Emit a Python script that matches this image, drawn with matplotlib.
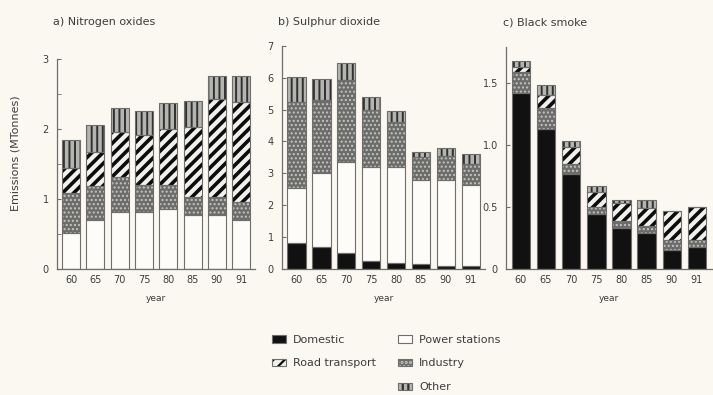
import numpy as np
import matplotlib
matplotlib.use('Agg')
import matplotlib.pyplot as plt
from matplotlib.patches import Patch

plt.rcParams['font.family'] = ['DejaVu Sans']
plt.rcParams['hatch.linewidth'] = 1.6

#%% data (MTonnes)
years = ['60', '65', '70', '75', '80', '85', '90', '91']

# a) Nitrogen oxides
nox_domestic = [0, 0, 0, 0, 0, 0, 0, 0]
nox_power = [0.51, 0.70, 0.82, 0.81, 0.86, 0.77, 0.77, 0.70]
nox_industry = [0.57, 0.49, 0.50, 0.39, 0.34, 0.26, 0.26, 0.26]
nox_road = [0.36, 0.48, 0.63, 0.71, 0.80, 1.00, 1.40, 1.43]
nox_other = [0.40, 0.39, 0.35, 0.35, 0.37, 0.37, 0.32, 0.36]

# b) Sulphur dioxide
so2_domestic = [0.82, 0.69, 0.50, 0.26, 0.18, 0.17, 0.10, 0.10]
so2_power = [1.72, 2.31, 2.87, 2.95, 3.03, 2.62, 2.69, 2.53]
so2_industry = [2.70, 2.30, 2.56, 1.79, 1.39, 0.73, 0.76, 0.67]
so2_road = [0, 0, 0, 0, 0, 0, 0, 0]
so2_other = [0.78, 0.66, 0.52, 0.39, 0.34, 0.16, 0.24, 0.30]

# c) Black smoke
bs_domestic = [1.42, 1.13, 0.77, 0.44, 0.33, 0.29, 0.15, 0.18]
bs_power = [0, 0, 0, 0, 0, 0, 0, 0]
bs_industry = [0.17, 0.17, 0.08, 0.06, 0.06, 0.06, 0.08, 0.05]
bs_road = [0.04, 0.10, 0.13, 0.12, 0.14, 0.14, 0.24, 0.27]
bs_other = [0.05, 0.08, 0.05, 0.05, 0.03, 0.07, 0.0, 0.0]

sources = ['Domestic', 'Power stations', 'Industry', 'Road transport', 'Other']

#%% styles: (facecolor, hatch colour, hatch, hatch linewidth)
bg = '#faf8f0'
ink = '#3c3c3c'
edge = '#6e6e6e'
styles = {
    'Domestic': ('#111111', '#111111', None, 1.0),
    'Power stations': ('#fdfcf8', '#fdfcf8', None, 1.0),
    'Industry': ('#6c6c6a', '#c4c4c0', '....', 1.0),
    'Road transport': ('#f0f0ec', '#0c0c0c', '///', 2.6),
    'Other': ('#b4b4b0', '#303030', '|||', 1.4),
}


def hatched(p, lw):
    # per-patch hatch width when the matplotlib version supports it
    if hasattr(p, 'set_hatch_linewidth'):
        p.set_hatch_linewidth(lw)
    return p


def stacked(ax, parts, ymax, yticks, yticklabels, minor=None):
    x = np.arange(len(years))
    bottom = np.zeros(len(years))
    for name, vals in zip(sources, parts):
        vals = np.asarray(vals, dtype=float)
        fc, hc, hatch, hlw = styles[name]
        bars = ax.bar(x, vals, 0.74, bottom=bottom, color=fc, edgecolor=hc,
                      hatch=hatch, linewidth=0, zorder=2)
        for b in bars:
            hatched(b, hlw)
        ax.bar(x, vals, 0.74, bottom=bottom, fill=False, edgecolor=edge,
               linewidth=0.8, zorder=3)
        bottom += vals
    ax.set_xlim(-0.58, len(years) - 0.42)
    ax.set_ylim(0, ymax)
    ax.set_xticks(x)
    ax.set_xticklabels(years)
    ax.set_yticks(yticks)
    ax.set_yticklabels(yticklabels)
    if minor is not None:
        ax.set_yticks(minor, minor=True)
    ax.set_facecolor(bg)
    for s in ['top', 'right']:
        ax.spines[s].set_visible(False)
    for s in ['left', 'bottom']:
        ax.spines[s].set_color(edge)
        ax.spines[s].set_linewidth(0.9)
    ax.tick_params(axis='y', which='both', direction='in', length=3,
                   color=edge, labelsize=7, labelcolor=ink, pad=6)
    ax.tick_params(axis='x', length=0, labelsize=7, labelcolor=ink, pad=4)
    ax.set_xlabel('year', fontsize=6.5, color=ink, labelpad=7)


fig = plt.figure(figsize=(7.13, 3.95), dpi=100)
fig.patch.set_facecolor(bg)

ax1 = fig.add_axes([0.080, 0.319, 0.278, 0.532])
ax2 = fig.add_axes([0.3955, 0.319, 0.285, 0.565])
ax3 = fig.add_axes([0.710, 0.319, 0.288, 0.562])

stacked(ax1, [nox_domestic, nox_power, nox_industry, nox_road, nox_other],
        3, [0, 1, 2, 3], ['0', '1', '2', '3'], minor=[0.5, 1.5, 2.5])
stacked(ax2, [so2_domestic, so2_power, so2_industry, so2_road, so2_other],
        7, range(8), [str(i) for i in range(8)])
stacked(ax3, [bs_domestic, bs_power, bs_industry, bs_road, bs_other],
        1.79, [0, 0.5, 1.0, 1.5], ['0', '0.5', '1.0', '1.5'])

titles = ['a) Nitrogen oxides', 'b) Sulphur dioxide', 'c) Black smoke']
for ax, t in zip([ax1, ax2, ax3], titles):
    x0 = ax.get_position().x0
    fig.text(x0 - 0.005, 0.944, t, fontsize=8, color=ink, ha='left', va='center')

fig.text(0.022, 0.612, 'Emissions (MTonnes)', rotation=90, fontsize=8,
         color=ink, ha='center', va='center')

# legend: two columns, Domestic / Road transport | Power stations / Industry / Other
def handle(name):
    fc, hc, hatch, hlw = styles[name]
    return (hatched(Patch(facecolor=fc, edgecolor=hc, hatch=hatch, linewidth=0), hlw),
            Patch(fill=False, edgecolor=edge, linewidth=0.8))

blank = Patch(facecolor='none', edgecolor='none')
order = ['Domestic', 'Road transport', None, 'Power stations', 'Industry', 'Other']
handles = [handle(n) if n else blank for n in order]
labels = [n if n else '' for n in order]
fig.legend(handles, labels, ncol=2, loc='upper left', bbox_to_anchor=(0.381, 0.153),
           bbox_transform=fig.transFigure, frameon=False, fontsize=8,
           labelcolor=ink, handlelength=1.3, handleheight=0.7, handletextpad=0.6,
           labelspacing=1.25, columnspacing=2.0, borderaxespad=0, borderpad=0)

fig.savefig('out.png', dpi=100, facecolor=bg)
